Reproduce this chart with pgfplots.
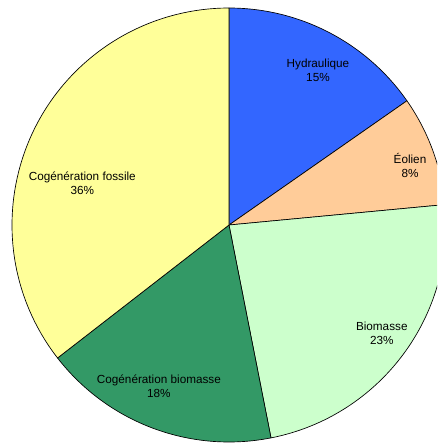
\documentclass[border=0pt]{standalone}
\usepackage{pgfplots}
\pgfplotsset{compat=1.18}
\usepackage{pgfplotstable}
\usepackage{fontspec}
\setmainfont{Liberation Sans}
\definecolor{hydro}{HTML}{3366FF}
\definecolor{eol}{HTML}{FFCC99}
\definecolor{bio}{HTML}{CCFFCC}
\definecolor{cogbio}{HTML}{339966}
\definecolor{cogfos}{HTML}{FFFF99}

\pgfplotstableread[col sep=comma]{
name,value,color,lx,ly
Hydraulique,15.3,hydro,0.410,0.714
Éolien,8.2,eol,0.834,0.276
Biomasse,23.4,bio,0.704,-0.501
Cogénération biomasse,17.6,cogbio,-0.323,-0.745
Cogénération fossile,35.5,cogfos,-0.676,0.194
}\piedata

\begin{document}
\begin{tikzpicture}
\begin{axis}[
  scale only axis, width=327.75pt, height=332.25pt,
  xmin=-1.0553, xmax=0.9585, ymin=-1.0046, ymax=1.0369,
  hide axis, clip=true, clip bounding box=upper bound,
]
\pgfplotsextra{
  \path (rel axis cs:0,0) rectangle (rel axis cs:1,1);
  \def\cum{0}
  \pgfplotsforeachungrouped \idx in {0,...,4}{
    \pgfplotstablegetelem{\idx}{value}\of\piedata \let\val\pgfplotsretval
    \pgfplotstablegetelem{\idx}{color}\of\piedata \let\col\pgfplotsretval
    \pgfmathsetmacro\sa{90-3.6*\cum}
    \pgfmathsetmacro\ea{90-3.6*(\cum+\val)}
    \filldraw[fill=\col, draw=black, line width=0.5pt, line join=round]
      (axis cs:0,0) -- (axis cs:{cos(\sa)},{sin(\sa)})
      arc[start angle=\sa, end angle=\ea, radius=162.75pt] -- cycle;
    \pgfmathsetmacro\cum{\cum+\val}
  }
  \pgfplotsforeachungrouped \idx in {0,...,4}{
    \pgfplotstablegetelem{\idx}{value}\of\piedata \let\val\pgfplotsretval
    \pgfplotstablegetelem{\idx}{name}\of\piedata \let\nm\pgfplotsretval
    \pgfplotstablegetelem{\idx}{lx}\of\piedata \let\lx\pgfplotsretval
    \pgfplotstablegetelem{\idx}{ly}\of\piedata \let\ly\pgfplotsretval
    \pgfmathtruncatemacro\pc{round(\val)}
    \node[align=center, font=\fontsize{8.8}{10.5}\selectfont, inner sep=0pt]
      at (axis cs:\lx,\ly) {\nm\\\pc\%};
  }
}
\end{axis}
\end{tikzpicture}
\end{document}
